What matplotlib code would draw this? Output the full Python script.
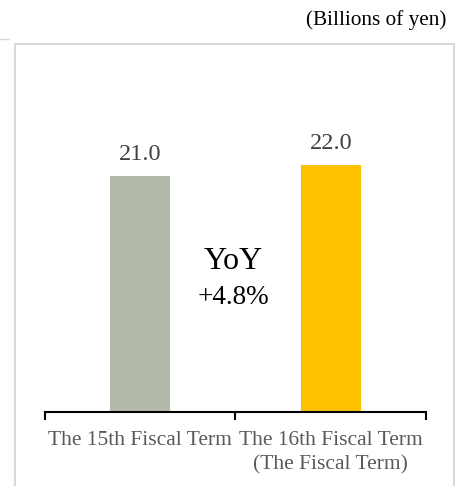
import matplotlib
matplotlib.use("Agg")
import matplotlib.pyplot as plt
from matplotlib.patches import Rectangle
from matplotlib.lines import Line2D

categories = ["The 15th Fiscal Term", "The 16th Fiscal Term\n(The Fiscal Term)"]
values = [21.0, 22.0]
colors = ["#b3b9a8", "#ffc000"]
yoy_text = "YoY"
yoy_value = "+4.8%"
unit = "(Billions of yen)"

W, H = 460, 486
fig = plt.figure(figsize=(W / 100, H / 100), dpi=100)
plt.rcParams['font.family'] = ['Liberation Serif', 'DejaVu Serif']

# outer chart border
fig.patches.append(Rectangle((15 / W, -0.05), (454 - 15) / W, (H - 44) / H + 0.05,
                             transform=fig.transFigure, fill=False,
                             edgecolor="#d9d9d9", linewidth=1.5))
fig.lines.append(Line2D([0, 9 / W], [1 - 39 / H, 1 - 39 / H], transform=fig.transFigure,
                        color="#d9d9d9", linewidth=1))

ax_left, ax_right = 45, 426
ax_bottom, ax_top = 412, 100
ax = fig.add_axes([ax_left / W, 1 - ax_bottom / H, (ax_right - ax_left) / W, (ax_bottom - ax_top) / H])
ax.set_facecolor("none")

x = list(range(len(categories)))
bars = ax.bar(x, values, width=0.315, color=colors)
ax.set_xlim(-0.5, 1.5)
ax.set_ylim(0, (ax_bottom - ax_top) / 11.25)

for xi, v in zip(x, values):
    ax.annotate(f"{v:.1f}", (xi, v), xytext=(0, 7.5), textcoords="offset points",
                ha="center", va="bottom", fontsize=17.5, color="#404040")

for s in ["top", "right", "left"]:
    ax.spines[s].set_visible(False)
ax.spines["bottom"].set_linewidth(1.5)
ax.spines["bottom"].set_color("black")
ax.set_yticks([])
ax.set_xticks([-0.5, 0.5, 1.5], minor=False)
ax.set_xticklabels([])
ax.tick_params(axis="x", which="major", length=6, width=1.5, direction="out", color="black")
ax.set_xticks(x, minor=True)
ax.set_xticklabels(categories, minor=True)
ax.tick_params(axis="x", which="minor", length=0, pad=14, labelsize=15.5, labelcolor="#595959")
for lbl in ax.get_xticklabels(minor=True):
    lbl.set_linespacing(1.32)

fig.text(233 / W, 1 - 261 / H, yoy_text, ha="center", va="center", fontsize=23, color="black")
fig.text(233 / W, 1 - 297 / H, yoy_value, ha="center", va="center", fontsize=19.5, color="black")
fig.text(446 / W, 1 - 20 / H, unit, ha="right", va="center", fontsize=15.3, color="black")

fig.savefig("out.png", dpi=100)
